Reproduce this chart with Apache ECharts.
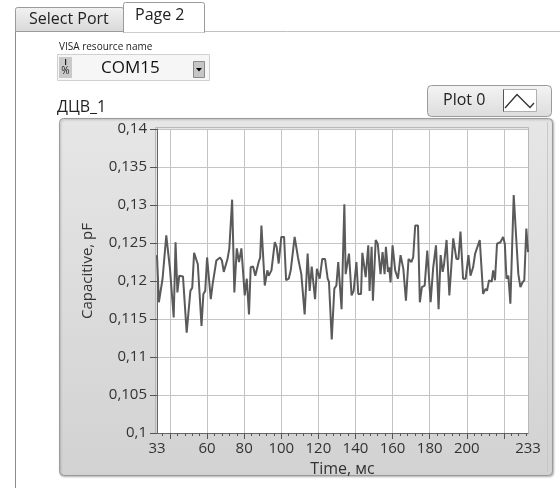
<!DOCTYPE html>
<html>
<head>
<meta charset="utf-8">
<script src="https://cdn.jsdelivr.net/npm/echarts@6/dist/echarts.min.js"></script>
<style>
html,body{margin:0;padding:0;background:#fff;}
#chart{width:560px;height:488px;}
</style>
</head>
<body>
<div id="chart"></div>
<script>
// ---- data ----
const times = [33,34,35,36,37,38,39,40,42,43,44,45,47,49,51,52,53,55,56,57,58,59,60,62,63,64,65,67,68,69,71,72,
73.5,74.7,76,77.2,78.5,80.3,81.4,82.6,83.5,84.8,86,86.8,87.8,88.6,89.3,91.1,92.5,93.2,94.7,96.5,97.5,98.6,100,101.5,
102.6,104,105.1,107.2,109,109.8,110.8,112.6,114.2,115.3,116.4,118.2,119.2,120.7,122.1,123.6,125,125.7,127.2,128.6,
129.7,130.7,132.5,134,134.7,136.5,137.9,139,140.5,141.5,143,143.7,145.5,146.9,147.6,148.7,149.4,150.9,152,153.5,
154.6,155.7,156.4,157.5,158.2,158.9,160,161.4,162.9,164.3,165.8,167.2,168.6,170.1,171.1,172.2,173.7,174.7,175.8,
177.3,178.7,180.5,181.9,183.4,184.8,185.9,187,187.7,189.1,190.6,191.6,192.7,194.4,195.5,196.6,198,199.4,200.9,202,
203.4,204.5,205.5,207,207.7,208.8,210.2,210.9,212,213.4,214.2,215.2,216.3,218.1,219.6,220.5,221.4,222.4,223.5,225.3,
226.7,227.8,228.9,230,231,232.1,233];
const values = [0.1234,0.1172,0.1172,0.1203,0.1204,0.1260,0.1258,0.1216,0.1152,0.1251,0.1185,0.1207,0.1206,0.1132,
0.1187,0.1191,0.1237,0.1222,0.1220,0.1141,0.1183,0.1187,0.1231,0.1176,0.1196,0.1194,0.1227,0.1231,0.1227,0.1212,
0.1229,0.1243,0.1307,0.1185,0.1243,0.1225,0.1243,0.1181,0.1203,0.1156,0.1218,0.1219,0.1207,0.1207,0.1225,0.1231,
0.1273,0.1194,0.1214,0.1207,0.1214,0.1251,0.1245,0.1223,0.1258,0.1258,0.1201,0.1203,0.1214,0.1258,0.1231,0.1231,
0.1209,0.1156,0.1236,0.1187,0.1219,0.1176,0.1216,0.1203,0.1229,0.1229,0.1203,0.1199,0.1123,0.1190,0.1194,0.1225,
0.1163,0.1301,0.1209,0.1236,0.1181,0.1187,0.1225,0.1183,0.1183,0.1237,0.1205,0.1247,0.1187,0.1245,0.1174,0.1254,
0.1249,0.1209,0.1238,0.1209,0.1245,0.1212,0.1218,0.1198,0.1247,0.1214,0.1203,0.1234,0.1216,0.1174,0.1229,0.1225,
0.1231,0.1273,0.1273,0.1172,0.1192,0.1194,0.1240,0.1172,0.1218,0.1247,0.1163,0.1234,0.1212,0.1221,0.1254,0.1181,
0.1181,0.1256,0.1229,0.1229,0.1265,0.1203,0.1203,0.1234,0.1207,0.1218,0.1236,0.1238,0.1254,0.1254,0.1183,0.1190,
0.1187,0.1201,0.1199,0.1214,0.1201,0.1249,0.1251,0.1258,0.1249,0.1203,0.1207,0.1170,0.1313,0.1254,0.1209,0.1192,
0.1198,0.1201,0.1269,0.1238];
const xLabelValues = [33,60,80,100,120,140,160,180,200,233];
const xMajorTicks = [40,60,80,100,120,140,160,180,200,220];
const xMinorTicks = [36,44,48,52,56,64,68,72,76,84,88,92,96,104,108,112,116,124,128,132,136,144,148,152,156,
164,168,172,176,184,188,192,196,204,208,212,216,224,228,232];
const xMin = 33, xMax = 233;
const yMin = 0.1, yMax = 0.14, yStep = 0.005;
const seriesName = 'Plot 0';
const xName = 'Time, мс';
const yName = 'Capacitive, pF';
const graphTitle = 'ДЦВ_1';

const FONT = '"Open Sans", "Noto Sans", sans-serif';
const chart = echarts.init(document.getElementById('chart'), null, {renderer: 'canvas'});
const pts = times.map((t, i) => [t, values[i]]);
const fmtY = v => (Math.round(v * 1000) / 1000).toString().replace('.', ',');

const grad = (a, b) => new echarts.graphic.LinearGradient(0, 0, 0, 1, [{offset: 0, color: a}, {offset: 1, color: b}]);

chart.setOption({
  animation: false,
  backgroundColor: '#ffffff',
  textStyle: {fontFamily: FONT},
  grid: {left: 157, top: 129, width: 371, height: 304, show: true, backgroundColor: '#ffffff', borderWidth: 0, containLabel: false},
  xAxis: [{
    type: 'value', min: xMin, max: xMax, position: 'bottom',
    name: xName, nameLocation: 'middle', nameGap: 28,
    nameTextStyle: {fontSize: 16, color: '#333', fontFamily: FONT},
    axisLine: {show: true, onZero: false, lineStyle: {color: '#666', width: 1}},
    axisTick: {show: true, length: 6, customValues: xMajorTicks, lineStyle: {color: '#555'}},
    axisLabel: {customValues: xLabelValues, fontSize: 15, color: '#333', margin: 8, fontFamily: FONT},
    splitLine: {show: true, lineStyle: {color: '#c4c4c4', width: 1}}
  }, {
    type: 'value', min: xMin, max: xMax, position: 'bottom',
    axisLine: {show: false, onZero: false},
    axisTick: {show: true, length: 3, customValues: xMinorTicks, lineStyle: {color: '#555'}},
    axisLabel: {show: false},
    splitLine: {show: false}
  }],
  yAxis: {
    type: 'value', min: yMin, max: yMax, interval: yStep,
    name: yName, nameLocation: 'middle', nameGap: 62, nameRotate: 90,
    nameTextStyle: {fontSize: 15, color: '#333', fontFamily: FONT, padding: [0, 0, 0, 20]},
    axisLine: {show: true, lineStyle: {color: '#666', width: 1}},
    axisTick: {show: true, length: 7, lineStyle: {color: '#555'}},
    axisLabel: {formatter: fmtY, fontSize: 15, color: '#333', margin: 10, fontFamily: FONT},
    splitLine: {show: true, lineStyle: {color: '#c4c4c4', width: 1}}
  },
  series: [{
    name: seriesName, type: 'line', xAxisIndex: 0, data: pts,
    showSymbol: false, symbol: 'none', smooth: false,
    lineStyle: {color: '#5a5a5a', width: 2}, z: 5
  }],
  graphic: [
    // tab page frame
    {type: 'line', z: -20, shape: {x1: 15.5, y1: 31.5, x2: 560, y2: 31.5}, style: {stroke: '#c0c0c0', lineWidth: 1}},
    {type: 'line', z: -20, shape: {x1: 15.5, y1: 31.5, x2: 15.5, y2: 488}, style: {stroke: '#8c8c8c', lineWidth: 1}},
    // tabs
    {type: 'rect', z: -19, shape: {x: 15.5, y: 7.5, width: 108, height: 24, r: [2, 2, 0, 0]},
      style: {fill: grad('#f2f2f2', '#d8d8d8'), stroke: '#9a9a9a', lineWidth: 1}},
    {type: 'text', z: -18, style: {x: 29, y: 19.5, text: 'Select Port', font: '16px ' + FONT, fill: '#222', textVerticalAlign: 'middle'}},
    {type: 'rect', z: -19, shape: {x: 123.5, y: 2.5, width: 81, height: 30, r: [2, 2, 0, 0]},
      style: {fill: '#ffffff', stroke: '#9a9a9a', lineWidth: 1}},
    {type: 'line', z: -18, shape: {x1: 124, y1: 31.5, x2: 204, y2: 31.5}, style: {stroke: '#ffffff', lineWidth: 2}},
    {type: 'text', z: -18, style: {x: 135, y: 15.5, text: 'Page 2', font: '16px ' + FONT, fill: '#222', textVerticalAlign: 'middle'}},
    // VISA control
    {type: 'text', z: -18, style: {x: 59, y: 47, text: 'VISA resource name', font: '10px ' + FONT, fill: '#222', textVerticalAlign: 'middle'}},
    {type: 'rect', z: -19, shape: {x: 57.5, y: 54.5, width: 152, height: 26},
      style: {fill: '#f6f6f6', stroke: '#d0d0d0', lineWidth: 1}},
    {type: 'rect', z: -18, shape: {x: 59, y: 57, width: 13, height: 21}, style: {fill: '#c9c9c9'}},
    {type: 'text', z: -17, style: {x: 65.5, y: 63, text: 'I', font: 'bold 8px ' + FONT, fill: '#222', textAlign: 'center', textVerticalAlign: 'middle'}},
    {type: 'text', z: -17, style: {x: 65.5, y: 71, text: '%', font: '10px ' + FONT, fill: '#222', textAlign: 'center', textVerticalAlign: 'middle'}},
    {type: 'text', z: -18, style: {x: 101, y: 68, text: 'COM15', font: '17px ' + FONT, fill: '#111', textVerticalAlign: 'middle'}},
    {type: 'rect', z: -18, shape: {x: 193.5, y: 61.5, width: 11, height: 16}, style: {fill: '#c6c6c6', stroke: '#8a8a8a', lineWidth: 1}},
    {type: 'polygon', z: -17, shape: {points: [[196, 68], [202, 68], [199, 71.5]]}, style: {fill: '#000'}},
    // graph label
    {type: 'text', z: -18, style: {x: 57, y: 107, text: graphTitle, font: '16px ' + FONT, fill: '#222', textVerticalAlign: 'middle'}},
    // graph panel
    {type: 'rect', z: -15, shape: {x: 59.5, y: 118.5, width: 493, height: 357, r: 4},
      style: {fill: grad('#e6e6e6', '#d2d2d2'), stroke: '#9c9c9c', lineWidth: 1,
        shadowColor: 'rgba(0,0,0,0.25)', shadowBlur: 2, shadowOffsetX: 1, shadowOffsetY: 1}},
    {type: 'line', z: -14, shape: {x1: 547.5, y1: 122, x2: 547.5, y2: 472}, style: {stroke: '#c8c8c8', lineWidth: 1}},
    {type: 'rect', z: -14, shape: {x: 155.5, y: 127.5, width: 373, height: 306}, style: {fill: 'none', stroke: '#b8b8b8', lineWidth: 1}},
    // legend (plot legend box)
    {type: 'rect', z: 10, shape: {x: 427.5, y: 85.5, width: 124, height: 31, r: 4},
      style: {fill: grad('#f4f4f4', '#dcdcdc'), stroke: '#9a9a9a', lineWidth: 1}},
    {type: 'text', z: 11, style: {x: 443, y: 100, text: seriesName, font: '16px ' + FONT, fill: '#222', textVerticalAlign: 'middle'}},
    {type: 'rect', z: 11, shape: {x: 503.5, y: 89.5, width: 33, height: 22}, style: {fill: '#ffffff', stroke: '#b0b0b0', lineWidth: 1}},
    {type: 'line', z: 12, shape: {x1: 503.5, y1: 89.5, x2: 503.5, y2: 111.5}, style: {stroke: '#555', lineWidth: 1}},
    {type: 'polyline', z: 12, shape: {points: [[505, 108], [517, 94.5], [530, 107.5], [534, 103]]}, style: {stroke: '#333', lineWidth: 1.3, fill: 'none'}}
  ]
});
</script>
</body>
</html>
